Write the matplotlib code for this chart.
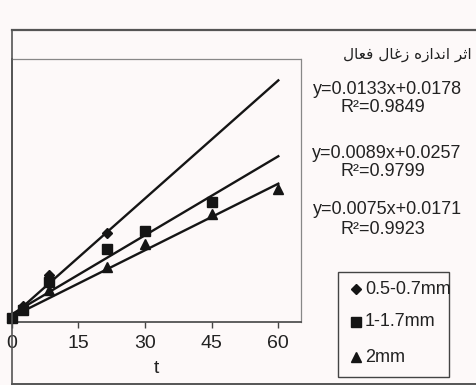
import matplotlib
matplotlib.use("Agg")
import matplotlib.pyplot as plt
import numpy as np
from matplotlib.lines import Line2D
from matplotlib.patches import Rectangle

# ---- data ----
t_s1 = [0, 2.5, 8.5, 21.5]
y_s1 = [0.017, 0.055, 0.158, 0.300]
t_s2 = [0, 2.5, 8.5, 21.5, 30, 45]
y_s2 = [0.015, 0.040, 0.135, 0.247, 0.307, 0.405]
t_s3 = [0, 2.5, 8.5, 21.5, 30, 45, 60]
y_s3 = [0.017, 0.050, 0.108, 0.186, 0.264, 0.365, 0.449]
slopes = [0.0133, 0.0089, 0.0075]
intercepts = [0.0178, 0.0257, 0.0171]
eq_texts = ["y=0.0133x+0.0178", "y=0.0089x+0.0257", "y=0.0075x+0.0171"]
r2_texts = ["R²=0.9849", "R²=0.9799", "R²=0.9923"]
labels = ["0.5-0.7mm", "1-1.7mm", "2mm"]
markers = ["D", "s", "^"]
msizes = [5, 7.5, 7.5]
xticks = [0, 15, 30, 45, 60]
xlabel = "t"
# "اثر اندازه زغال فعال" in presentation forms, visual order
title_visual = "\uFEDD\uFE8E\uFECC\uFED3 \uFEDD\uFE8E\uFECF\uFEAF \uFEE9\uFEAF\uFE8D\uFEAA\uFEE7\uFE8D \uFEAE\uFE9B\uFE8D"

W, H = 476, 385
fig = plt.figure(figsize=(W / 100, H / 100), dpi=100)
bg = "#fdf9f9"
fig.patch.set_facecolor(bg)

def fx(px):
    return px / W

def fy(py):
    return 1 - py / H

ax_l, ax_r, ax_t, ax_b = 11.5, 301, 59, 322
ax = fig.add_axes([fx(ax_l), fy(ax_b), fx(ax_r - ax_l), (ax_b - ax_t) / H])
ax.set_facecolor(bg)
ax.set_xlim(0, 65.1)
ax.set_ylim(0, 0.888)

ink = "#151515"
tline = np.array([0, 60])
for s, b in zip(slopes, intercepts):
    ax.plot(tline, s * tline + b, color=ink, lw=1.7, zorder=2)

for (tt, yy), m, ms in zip([(t_s1, y_s1), (t_s2, y_s2), (t_s3, y_s3)], markers, msizes):
    ax.plot(tt, yy, linestyle="none", marker=m, ms=ms, color=ink, zorder=3, clip_on=False)

ax.set_xticks(xticks)
ax.set_xticklabels([str(v) for v in xticks], fontsize=14, family="Liberation Sans", color="#222")
ax.tick_params(axis="x", direction="out", length=4, width=1, colors="#444", labelcolor="#222", pad=5)
ax.set_yticks([])
ax.set_xlabel(xlabel, fontsize=14, family="Liberation Sans", color="#222", labelpad=6)

for side in ["top", "right"]:
    ax.spines[side].set_linestyle((0, (1, 1)))
    ax.spines[side].set_color("#888")
    ax.spines[side].set_linewidth(0.9)
ax.spines["bottom"].set_color("#444")
ax.spines["bottom"].set_linewidth(1.2)
ax.spines["left"].set_color("#444")
ax.spines["left"].set_linewidth(1.2)

# outer border lines
fig.add_artist(Line2D([fx(12), fx(476)], [fy(30), fy(30)], color="#555", lw=1.6))
fig.add_artist(Line2D([fx(12), fx(476)], [fy(384), fy(384)], color="#555", lw=1.4))
fig.add_artist(Line2D([fx(12), fx(12)], [fy(30), fy(384)], color="#555", lw=1.2))

# title (Persian)
fig.text(fx(472), fy(55), title_visual, ha="right", va="center", fontsize=11,
         family="DejaVu Sans", color="#222")

# equations
eq_y = [90, 153, 210]
r2_y = [108, 172, 229]
for e, r, ey, ry in zip(eq_texts, r2_texts, eq_y, r2_y):
    fig.text(fx(387), fy(ey), e, ha="center", va="center", fontsize=13,
             family="Liberation Sans", color="#222")
    fig.text(fx(383), fy(ry), r, ha="center", va="center", fontsize=13,
             family="Liberation Sans", color="#222")

# legend box
fig.add_artist(Rectangle((fx(338), fy(377)), fx(449 - 338), (377 - 272) / H,
                         transform=fig.transFigure, fill=False, edgecolor="#444", lw=1.0))
leg_y = [289, 322, 357]
for lab, m, ms, ly in zip(labels, markers, msizes, leg_y):
    fig.add_artist(Line2D([fx(356)], [fy(ly)], marker=m, ms=ms, color=ink, linestyle="none"))
    fig.text(fx(365), fy(ly), lab, ha="left", va="center", fontsize=13,
             family="Liberation Sans", color="#222")

fig.savefig("out.png", dpi=100, facecolor=fig.get_facecolor())
